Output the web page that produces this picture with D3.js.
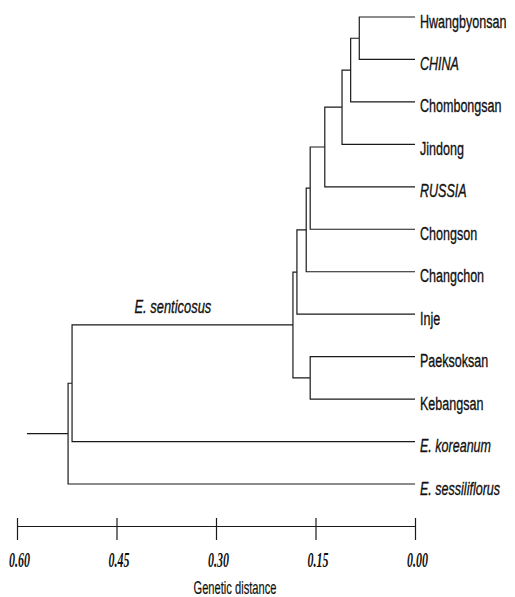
<!DOCTYPE html>
<html>
<head>
<meta charset="utf-8">
<script src="https://cdn.jsdelivr.net/npm/d3@7"></script>
<style>
  body { margin: 0; background: #fff; }
  svg { display: block; }
  .branch { stroke: #1a1a1a; stroke-width: 1.2px; fill: none; }
  .leaf-label { font-family: "Liberation Sans", Arial, sans-serif; font-size: 19px; fill: #111; stroke: #111; stroke-width: 0.35px; }
  .axis-label { font-family: "Liberation Serif", "Times New Roman", serif; font-size: 20px; font-style: italic; font-weight: bold; fill: #111; }
</style>
</head>
<body>
<svg id="dendro"></svg>
<script>
// leaves in top-to-bottom order
var leaves = ["Hwangbyonsan", "CHINA", "Chombongsan", "Jindong", "RUSSIA", "Chongson",
              "Changchon", "Inje", "Paeksoksan", "Kebangsan", "E. koreanum", "E. sessiliflorus"];
var italicLeaves = ["CHINA", "RUSSIA", "E. koreanum", "E. sessiliflorus"];

// internal nodes: id, left child, right child, genetic distance of the join
var nodeIds   = ["n1", "n2", "n3", "n4", "n5", "n6", "n7", "n10", "n8", "n9", "root"];
var nodeLeft  = ["Hwangbyonsan", "n1", "n2", "n3", "n4", "n5", "n6", "Paeksoksan", "n7", "n8", "n9"];
var nodeRight = ["CHINA", "Chombongsan", "Jindong", "RUSSIA", "Chongson", "Changchon", "Inje", "Kebangsan", "n10", "E. koreanum", "E. sessiliflorus"];
var nodeDist  = [0.084, 0.097, 0.110, 0.136, 0.158, 0.164, 0.178, 0.158, 0.184, 0.517, 0.523];
var rootStem  = 0.585;
var cladeLabel = "E. senticosus";
var cladeLabelDist = 0.365;

var tickValues = [0.60, 0.45, 0.30, 0.15, 0.00];

var width = 515,
    height = 597;

var svg = d3.select("svg#dendro")
    .attr("width", width)
    .attr("height", height);

var x = d3.scaleLinear().domain([0.60, 0]).range([17, 415]);
var y = d3.scalePoint().domain(leaves).range([17, 484]);

// positions of every node
var pos = {};
leaves.forEach(function(l) { pos[l] = { d: 0, y: y(l) }; });
for (let i = 0; i < nodeIds.length; i++) {
  pos[nodeIds[i]] = {
    d: nodeDist[i],
    y: (pos[nodeLeft[i]].y + pos[nodeRight[i]].y) / 2
  };
}

var g = svg.append("g");

for (let i = 0; i < nodeIds.length; i++) {
  var p = pos[nodeIds[i]];
  [nodeLeft[i], nodeRight[i]].forEach(function(c) {
    var q = pos[c];
    g.append("path")
      .attr("class", "branch")
      .attr("d", "M" + x(p.d) + "," + p.y + "V" + q.y + "H" + x(q.d));
  });
}

// root stem
var r = pos["root"];
g.append("path")
  .attr("class", "branch")
  .attr("d", "M" + x(rootStem) + "," + r.y + "H" + x(r.d));

// leaf labels (condensed type)
g.selectAll("text.leaf-label")
  .data(leaves)
  .enter()
  .append("text")
  .attr("class", "leaf-label")
  .attr("transform", function(d) { return "translate(" + (x(0) + 5) + "," + (y(d) + 10.5) + ") scale(0.66,1)"; })
  .style("font-style", function(d) { return italicLeaves.indexOf(d) >= 0 ? "italic" : "normal"; })
  .text(function(d) { return d; });

// clade label above the E. senticosus branch
var n8 = pos["n8"];
g.append("text")
  .attr("class", "leaf-label")
  .attr("text-anchor", "middle")
  .style("font-style", "italic")
  .attr("transform", "translate(" + x(cladeLabelDist) + "," + (n8.y - 12) + ") scale(0.68,1)")
  .text(cladeLabel);

// axis
var axisY = 526;
var axis = svg.append("g")
  .attr("transform", "translate(0," + axisY + ")")
  .call(d3.axisBottom(x).tickValues(tickValues).tickFormat(d3.format(".2f")).tickSizeOuter(0).tickSizeInner(14));

axis.select(".domain").attr("stroke", "#1a1a1a").attr("stroke-width", 1.2);
axis.selectAll(".tick line").attr("y1", -8).attr("stroke", "#1a1a1a").attr("stroke-width", 1.2);
axis.selectAll(".tick text")
  .attr("class", "axis-label")
  .attr("font-family", null)
  .attr("font-size", null)
  .attr("y", 0)
  .attr("dy", 0)
  .attr("transform", "translate(2,41) scale(0.6,1)");

svg.append("text")
  .attr("class", "leaf-label")
  .attr("text-anchor", "middle")
  .style("font-size", "18px")
  .style("stroke-width", "0.2px")
  .attr("transform", "translate(235,594) scale(0.62,1)")
  .text("Genetic distance");
</script>
</body>
</html>
